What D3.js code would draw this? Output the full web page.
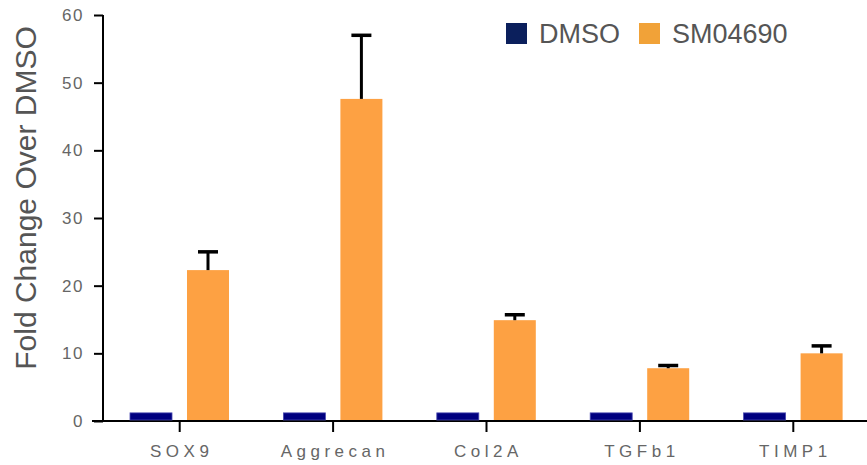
<!DOCTYPE html>
<html>
<head>
<meta charset="utf-8">
<script src="https://cdn.jsdelivr.net/npm/d3@7"></script>
<style>
  html, body { margin: 0; padding: 0; background: #fff; }
  svg { display: block; font-family: "Liberation Sans", Arial, sans-serif; }
</style>
</head>
<body>
<svg id="chart" width="867" height="465"></svg>
<script>
// Gene expression: fold change relative to DMSO control
const genes = ["SOX9", "Aggrecan", "Col2A", "TGFb1", "TIMP1"];
const seriesNames = ["DMSO", "SM04690"];
const dmsoValues = [1.2, 1.2, 1.2, 1.2, 1.2];
const smValues = [22.3, 47.6, 14.9, 7.8, 10.0];
const smErrorTop = [25.0, 57.0, 15.7, 8.2, 11.1];
const yTicks = [0, 10, 20, 30, 40, 50, 60];

const barColors = ["#000080", "#fda143"];
const legendColors = ["#0b1f5c", "#f1a238"];

const svg = d3.select("#chart");
const margin = { left: 103, right: -3, top: 15, bottom: 44 };
const W = 867, H = 465;
const y0 = H - margin.bottom; // 421

const x = d3.scaleBand().domain(genes).range([margin.left, W - margin.right]);
// two bars per gene, placed inside the gene's band
const xs = d3.scaleBand().domain(seriesNames).range([27, 126]).paddingInner(0.263).paddingOuter(0);
const y = d3.scaleLinear().domain([0, 60]).range([y0, margin.top]);

// Y axis
const yAxis = svg.append("g").attr("transform", `translate(${margin.left},0)`)
  .call(d3.axisLeft(y).tickValues(yTicks).tickSize(9).tickPadding(10));
yAxis.select(".domain").attr("stroke", "#000").attr("stroke-width", 2).attr("d", `M0,${y(60)}V${y0}`);
yAxis.selectAll(".tick line").attr("stroke", "#000").attr("stroke-width", 2);
yAxis.selectAll(".tick text").attr("fill", "#666").style("font-size", "17px").style("letter-spacing", "1.5px");

// X axis
const xAxis = svg.append("g").attr("transform", `translate(0,${y0})`)
  .call(d3.axisBottom(x).tickSize(11).tickPadding(13));
xAxis.select(".domain").attr("stroke", "#000").attr("stroke-width", 2).attr("d", `M92,0H${W}`);
xAxis.selectAll(".tick line").attr("stroke", "#000").attr("stroke-width", 2);
xAxis.selectAll(".tick text").attr("fill", "#666").attr("dx", 2)
  .style("font-size", "17px").style("letter-spacing", "4.5px");

// Bars
const groups = svg.append("g").selectAll("g").data(genes).join("g")
  .attr("transform", d => `translate(${x(d)},0)`);

groups.append("rect")
  .attr("x", xs("DMSO")).attr("width", xs.bandwidth())
  .attr("y", (d, i) => y(dmsoValues[i]))
  .attr("height", (d, i) => y0 - y(dmsoValues[i]) - 1)
  .attr("fill", barColors[0]).attr("stroke", "#4a4ab0").attr("stroke-width", 0.8);

groups.append("rect")
  .attr("x", xs("SM04690")).attr("width", xs.bandwidth())
  .attr("y", (d, i) => y(smValues[i]))
  .attr("height", (d, i) => y0 - y(smValues[i]) - 1)
  .attr("fill", barColors[1]);

// Upper error bars
const cx = xs("SM04690") + xs.bandwidth() / 2;
groups.append("line")
  .attr("x1", cx).attr("x2", cx)
  .attr("y1", (d, i) => y(smValues[i]))
  .attr("y2", (d, i) => y(smErrorTop[i]))
  .attr("stroke", "#000").attr("stroke-width", 3);
groups.append("line")
  .attr("x1", cx - 10).attr("x2", cx + 10)
  .attr("y1", (d, i) => y(smErrorTop[i]))
  .attr("y2", (d, i) => y(smErrorTop[i]))
  .attr("stroke", "#000").attr("stroke-width", 3.5);

// Y axis title
svg.append("text")
  .attr("transform", "translate(36,198) rotate(-90)")
  .attr("text-anchor", "middle")
  .attr("fill", "#555")
  .style("font-size", "30px")
  .text("Fold Change Over DMSO");

// Legend
const legend = svg.append("g");
const legendX = [506, 639];
seriesNames.forEach((name, i) => {
  legend.append("rect").attr("x", legendX[i]).attr("y", 23).attr("width", 21).attr("height", 21)
    .attr("fill", legendColors[i]);
  legend.append("text").attr("x", legendX[i] + 33).attr("y", 43)
    .attr("fill", "#555").style("font-size", "27px").text(name);
});
</script>
</body>
</html>
